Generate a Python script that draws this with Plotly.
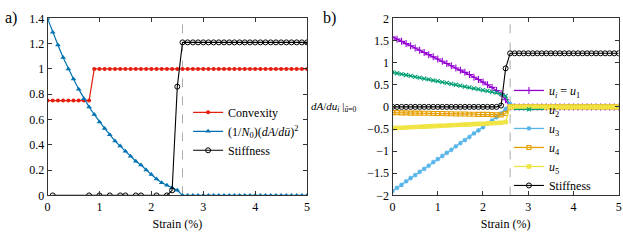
import plotly.graph_objects as go

# ---------------- data ----------------
strain = [round(i * 0.1, 1) for i in range(51)]  # 0.0 .. 5.0

convexity = [0.75] * 9 + [1.0] * 42

grad_sq = [1.40, 1.29, 1.19, 1.09, 1.00, 0.92, 0.84, 0.765, 0.70, 0.64,
           0.58, 0.53, 0.48, 0.43, 0.39, 0.35, 0.31, 0.27, 0.24, 0.20,
           0.165, 0.13, 0.10, 0.08, 0.06, 0.04] + [0.0] * 25

stiff_a_x = [0.1, 0.8, 1.0, 1.2, 1.4, 1.5, 1.7, 1.8, 2.1, 2.3, 2.4, 2.5] + strain[26:]
stiff_a_y = [0, 0, 0, 0, 0, 0, 0, 0, 0, 0, 0.04, 0.86] + [1.21] * 25

u1 = [1.58, 1.53, 1.48, 1.43, 1.38, 1.33, 1.28, 1.23, 1.18, 1.13,
      1.08, 1.03, 0.98, 0.93, 0.88, 0.83, 0.78, 0.73, 0.67, 0.62,
      0.56, 0.50, 0.44, 0.37, 0.30, 0.16, 0.0] + [0.0] * 24
u2 = [0.78, 0.76, 0.74, 0.72, 0.70, 0.68, 0.66, 0.64, 0.62, 0.60,
      0.58, 0.56, 0.54, 0.52, 0.50, 0.48, 0.46, 0.44, 0.42, 0.40,
      0.38, 0.36, 0.34, 0.32, 0.29, 0.25, 0.02] + [0.0] * 24
u3 = [-1.90, -1.83, -1.76, -1.68, -1.61, -1.54, -1.47, -1.40, -1.33, -1.25,
      -1.18, -1.11, -1.04, -0.97, -0.89, -0.82, -0.75, -0.68, -0.60, -0.53,
      -0.46, -0.38, -0.31, -0.23, -0.15, -0.05, 0.07] + [0.0] * 24
u4 = [-0.13, -0.13, -0.135, -0.135, -0.14, -0.14, -0.14, -0.145, -0.145, -0.15,
      -0.15, -0.15, -0.155, -0.155, -0.16, -0.16, -0.16, -0.165, -0.165, -0.17,
      -0.17, -0.17, -0.175, -0.18, -0.18, -0.15, 0.0] + [0.0] * 24
u5 = [-0.48, -0.475, -0.47, -0.465, -0.46, -0.455, -0.45, -0.445, -0.44, -0.435,
      -0.43, -0.425, -0.42, -0.415, -0.41, -0.405, -0.40, -0.395, -0.39, -0.385,
      -0.38, -0.375, -0.37, -0.365, -0.36, -0.34, 0.0] + [0.0] * 24
stiff_b = [0.0] * 24 + [0.03, 0.87] + [1.21] * 25

critical_strain = 2.6

# ---------------- figure ----------------
FONT = "Liberation Serif, Times New Roman, serif"
fig = go.Figure()

fig.add_trace(go.Scatter(x=strain, y=convexity, name="Convexity", mode="lines+markers",
                         line=dict(color="#e51e10", width=1.2),
                         marker=dict(symbol="circle", size=4, color="#e51e10"),
                         xaxis="x", yaxis="y", legend="legend"))
fig.add_trace(go.Scatter(x=strain, y=grad_sq,
                         name="(1/<i>N</i><sub>0</sub>)(<i>dA</i>/<i>dū</i>)<sup>2</sup>",
                         mode="lines+markers",
                         line=dict(color="#0072b2", width=1.2),
                         marker=dict(symbol="triangle-up", size=5, color="#0072b2"),
                         xaxis="x", yaxis="y", legend="legend"))
fig.add_trace(go.Scatter(x=stiff_a_x, y=stiff_a_y, name="Stiffness", mode="lines+markers",
                         line=dict(color="black", width=1.1),
                         marker=dict(symbol="circle-open", size=5, color="black",
                                     line=dict(width=1)),
                         xaxis="x", yaxis="y", legend="legend"))

series_b = [
    ("<i>u<sub>i</sub></i> = <i>u</i><sub>1</sub>", u1, "#9400d3", "cross-thin-open", 5),
    ("<i>u</i><sub>2</sub>", u2, "#009e73", "x-thin-open", 4),
    ("<i>u</i><sub>3</sub>", u3, "#56b4e9", "asterisk-open", 4),
    ("<i>u</i><sub>4</sub>", u4, "#e69f00", "square-open", 4),
    ("<i>u</i><sub>5</sub>", u5, "#f0e442", "square", 3.5),
]
for name, vals, col, sym, sz in series_b:
    fig.add_trace(go.Scatter(x=strain, y=vals, name=name, mode="lines+markers",
                             line=dict(color=col, width=1.3),
                             marker=dict(symbol=sym, size=sz, color=col,
                                         line=dict(width=1.1, color=col)),
                             xaxis="x2", yaxis="y2", legend="legend2"))
fig.add_trace(go.Scatter(x=strain, y=stiff_b, name="Stiffness", mode="lines+markers",
                         line=dict(color="black", width=1.1),
                         marker=dict(symbol="circle-open", size=5, color="black",
                                     line=dict(width=1)),
                         xaxis="x2", yaxis="y2", legend="legend2"))

axis_common = dict(showline=True, linecolor="#333", linewidth=1, mirror="ticks",
                   ticks="inside", ticklen=4, tickcolor="#333", showgrid=False,
                   zeroline=False, tickfont=dict(family=FONT, size=12, color="black"))

fig.update_layout(
    width=623, height=241,
    margin=dict(l=0, r=0, t=0, b=0),
    paper_bgcolor="white", plot_bgcolor="white",
    font=dict(family=FONT, size=12, color="black"),
    xaxis=dict(domain=[0.0722, 0.4928], range=[0, 5], dtick=1, anchor="y",
               title=dict(text="Strain (%)", standoff=6, font=dict(family=FONT, size=12)),
               **axis_common),
    yaxis=dict(domain=[0.170, 0.950], range=[0, 1.4], dtick=0.2, anchor="x",
               **axis_common),
    xaxis2=dict(domain=[0.6313, 0.9979], range=[0, 5], dtick=1, anchor="y2",
                title=dict(text="Strain (%)", standoff=6, font=dict(family=FONT, size=12)),
                **axis_common),
    yaxis2=dict(domain=[0.170, 0.950], range=[-2, 2], dtick=0.5, anchor="x2",
                **axis_common),
    legend=dict(x=0.30, y=0.60, xanchor="left", yanchor="top",
                bgcolor="rgba(0,0,0,0)", font=dict(family=FONT, size=12),
                itemwidth=30, tracegroupgap=0),
    legend2=dict(x=0.82, y=0.15, xanchor="left", yanchor="bottom",
                 bgcolor="rgba(0,0,0,0)", font=dict(family=FONT, size=12),
                 itemwidth=30, tracegroupgap=0),
    showlegend=True,
)

for xr, yr in (("x", "y domain"), ("x2", "y2 domain")):
    fig.add_shape(type="line", xref=xr, yref=yr, x0=critical_strain, x1=critical_strain,
                  y0=0, y1=1, line=dict(color="#aaaaaa", width=1, dash="dash"), layer="below")

fig.add_annotation(text="a)", xref="paper", yref="paper", x=0.0, y=1.0,
                   xanchor="left", yanchor="top", showarrow=False,
                   font=dict(family=FONT, size=16))
fig.add_annotation(text="b)", xref="paper", yref="paper", x=0.515, y=1.0,
                   xanchor="left", yanchor="top", showarrow=False,
                   font=dict(family=FONT, size=16))
fig.add_annotation(text="<i>dA</i>/<i>du<sub>i</sub></i> |<sub><i>ū</i>=0</sub>",
                   xref="paper", yref="paper", x=0.537, y=0.56,
                   xanchor="center", yanchor="middle", showarrow=False,
                   font=dict(family=FONT, size=11))

fig.write_html("out.html", post_script="document.body.style.margin='0';",
               config={"displayModeBar": False})
